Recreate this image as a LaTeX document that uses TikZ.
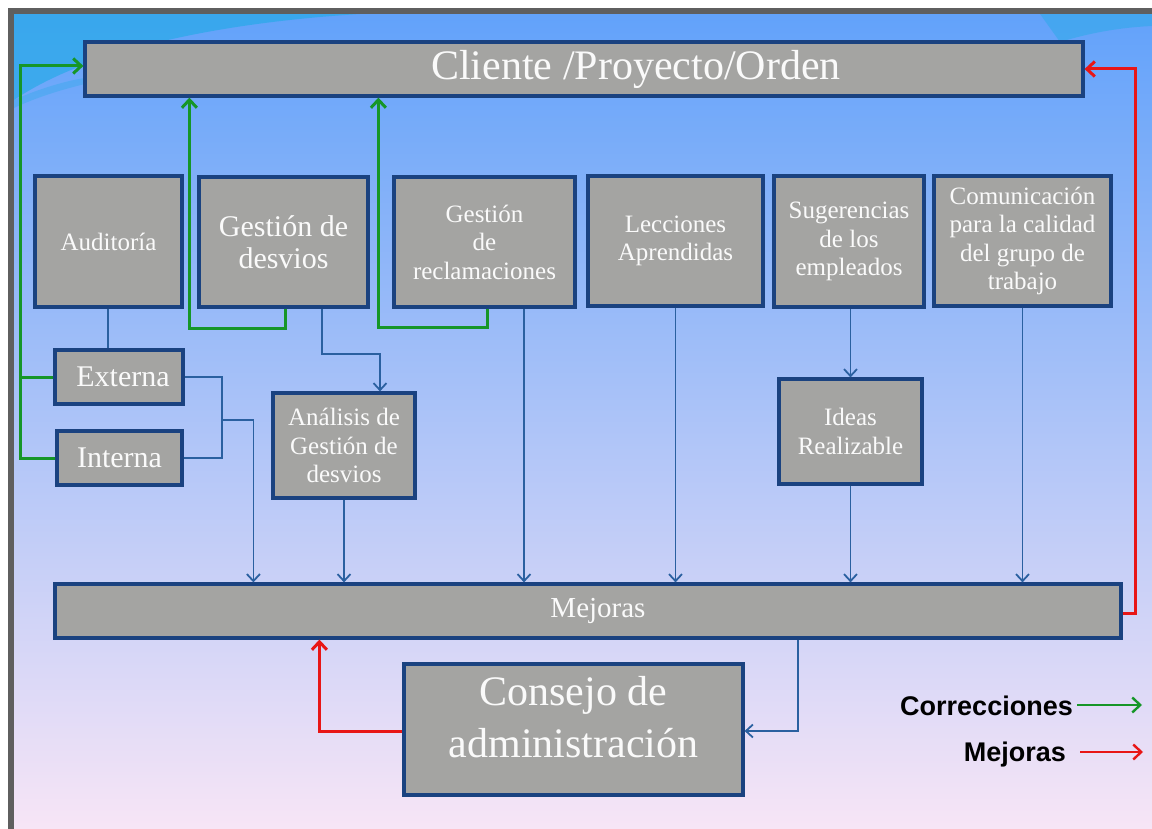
\documentclass[tikz,border=0pt]{standalone}
\usepackage{fontspec}
\setmainfont{Liberation Serif}
\newfontfamily\legendfont{Liberation Sans}
\usetikzlibrary{arrows.meta}

\definecolor{boxgray}{RGB}{164,164,162}
\definecolor{boxline}{RGB}{26,66,128}
\definecolor{linkblue}{RGB}{42,96,160}
\definecolor{corrgreen}{RGB}{22,150,40}
\definecolor{mejred}{RGB}{232,22,22}
\definecolor{framegray}{RGB}{95,95,95}
\definecolor{bgtop}{RGB}{98,162,250}
\definecolor{bgmid}{RGB}{156,198,243}
\definecolor{bgbot}{RGB}{247,229,246}
\definecolor{swoosh}{RGB}{40,170,232}

\tikzset{
  box/.style={draw=boxline, line width=3.2pt, fill=boxgray, text=white!96!gray,
    align=center, inner sep=2pt},
  small/.style={font=\fontsize{25}{28.5}\selectfont},
  link/.style={draw=linkblue, line width=1.8pt},
  flow/.style={link, -{Straight Barb[length=7pt,width=13pt]}},
  corr/.style={draw=corrgreen, line width=3pt, -{Straight Barb[length=8pt,width=15pt]}},
  corrline/.style={draw=corrgreen, line width=3pt},
  impr/.style={draw=mejred, line width=3pt, -{Straight Barb[length=8pt,width=15pt]}},
  legend/.style={font=\legendfont\bfseries\fontsize{27}{30}\selectfont, text=black, inner sep=0pt}
}

\begin{document}
\begin{tikzpicture}[x=1pt,y=-1pt]

		% THE BACKGROUND
		\useasboundingbox (0,0) rectangle (1152,829);
		\fill[white] (0,0) rectangle (1152,829);
		\shade[top color=bgtop, middle color=bgmid, bottom color=bgbot] (14,14) rectangle (1152,829);
		\fill[swoosh, opacity=0.7] (14,14) -- (360,14) .. controls (200,24) and (80,55) .. (14,100) -- cycle;
		\fill[swoosh, opacity=0.35] (14,100) .. controls (40,88) and (70,80) .. (85,78) -- (85,84) .. controls (60,90) and (35,98) .. (14,108) -- cycle;
		\fill[swoosh, opacity=0.5] (1040,14) -- (1152,14) -- (1152,26) .. controls (1110,28) and (1080,36) .. (1060,42) -- cycle;
		\fill[framegray] (8,8) rectangle (1152,14);
		\fill[framegray] (8,8) rectangle (14,829);
		%
		% THE BOXES
		% TOP
		\node[box, minimum width=998pt, minimum height=54pt, font=\fontsize{42}{46}\selectfont]
		(cliente) at (584,69) {\hspace*{104pt}Cliente /Proyecto/Orden};
		% SOURCES
		\node[box, small, minimum width=147pt, minimum height=131pt] (auditoria) at (108.5,241.5) {Auditoría};
		\node[box, font=\fontsize{30}{32}\selectfont, minimum width=169pt, minimum height=130pt]
		(desvios) at (283.5,242) {Gestión de\\desvios};
		\node[box, small, minimum width=181pt, minimum height=130pt] (reclamaciones) at (484.5,242) {Gestión\\de\\reclamaciones};
		\node[box, small, minimum width=175pt, minimum height=130pt] (lecciones) at (675.5,241) {Lecciones\\Aprendidas};
		\node[box, small, minimum width=150pt, minimum height=131pt] (sugerencias) at (849,241.5) {Sugerencias\\de los\\empleados};
		\node[box, small, minimum width=177pt, minimum height=130pt] (comunicacion) at (1022.5,241) {Comunicación\\para la calidad\\del grupo de\\trabajo};
		% SECOND ROW
		\node[box, font=\fontsize{30}{32}\selectfont, minimum width=128pt, minimum height=54pt] (externa) at (119,377) {\hspace*{8pt}Externa};
		\node[box, font=\fontsize{30}{32}\selectfont, minimum width=125pt, minimum height=54pt] (interna) at (119.5,458) {Interna};
		\node[box, small, minimum width=142pt, minimum height=105pt] (analisis) at (344,445.5) {Análisis de\\Gestión de\\desvios};
		\node[box, small, minimum width=143pt, minimum height=105pt] (ideas) at (850.5,431.5) {Ideas\\Realizable};
		% BOTTOM
		\node[box, font=\fontsize{29}{32}\selectfont, minimum width=1066pt, minimum height=54pt] (mejoras) at (588,611) {\hspace*{20pt}Mejoras};
		\node[box, font=\fontsize{42}{52}\selectfont, minimum width=339pt, minimum height=131pt] (consejo) at (573.5,729.5) {Consejo de\\administración\\[-26pt]};
		%
		% BLUE LINKS
		\coordinate (audjoin) at (222,420);
		\draw[link] ([xshift=-0.5pt]auditoria.south) -- ([xshift=-0.5pt]auditoria.south |- externa.north);
		\draw[link] (externa.east) -| (audjoin) |- (interna.east);
		\draw[flow] (audjoin) -| ([xshift=200pt]mejoras.north west);
		\draw[flow] ([xshift=38.5pt]desvios.south) -- ++(0,45) -| ([xshift=36pt]analisis.north);
		\draw[flow] (analisis.south) -- (analisis.south |- mejoras.north);
		\draw[flow] ([xshift=39.5pt]reclamaciones.south) -- ([xshift=39.5pt]reclamaciones.south |- mejoras.north);
		\draw[flow] (lecciones.south) -- (lecciones.south |- mejoras.north);
		\draw[flow] (ideas.north |- sugerencias.south) -- (ideas.north);
		\draw[flow] (ideas.south) -- (ideas.south |- mejoras.north);
		\draw[flow] (comunicacion.south) -- (comunicacion.south |- mejoras.north);
		\draw[flow] ([xshift=210pt]mejoras.south) |- ([yshift=-1.5pt]consejo.east);
		%
		% GREEN CORRECTIONS
		\coordinate (gline) at (20,420);
		\draw[corrline] (externa.west) -- (externa.west -| gline);
		\draw[corr] (interna.west) -| (gline) |- ([yshift=3pt]cliente.west);
		\draw[corr] ([xshift=1.5pt]desvios.south) -- ++(0,20) -| ([xshift=106pt]cliente.south west);
		\draw[corr] ([xshift=2.5pt]reclamaciones.south) -- ++(0,19) -| ([xshift=295pt]cliente.south west);
		%
		% RED IMPROVEMENTS
		\coordinate (rline) at (1135,300);
		\draw[impr] ([yshift=-2pt]mejoras.east) -| (rline) |- (cliente.east);
		\draw[impr] ([yshift=-1.5pt]consejo.west) -| ([xshift=266pt]mejoras.south west);
		%
		% LEGEND
		\node[legend, anchor=east] (legcorr) at (1073,706) {Correcciones};
		\node[legend, anchor=east] (legmej) at (1066,755) {Mejoras};
		\coordinate (legcorrend) at (1142,705);
		\coordinate (legmejend) at (1143,752);
		\draw[corr, line width=2.4pt] ([xshift=4pt,yshift=1pt]legcorr.east) -- (legcorrend);
		\draw[impr, line width=2.4pt] ([xshift=14pt,yshift=3pt]legmej.east) -- (legmejend);
	\end{tikzpicture}
\end{document}
